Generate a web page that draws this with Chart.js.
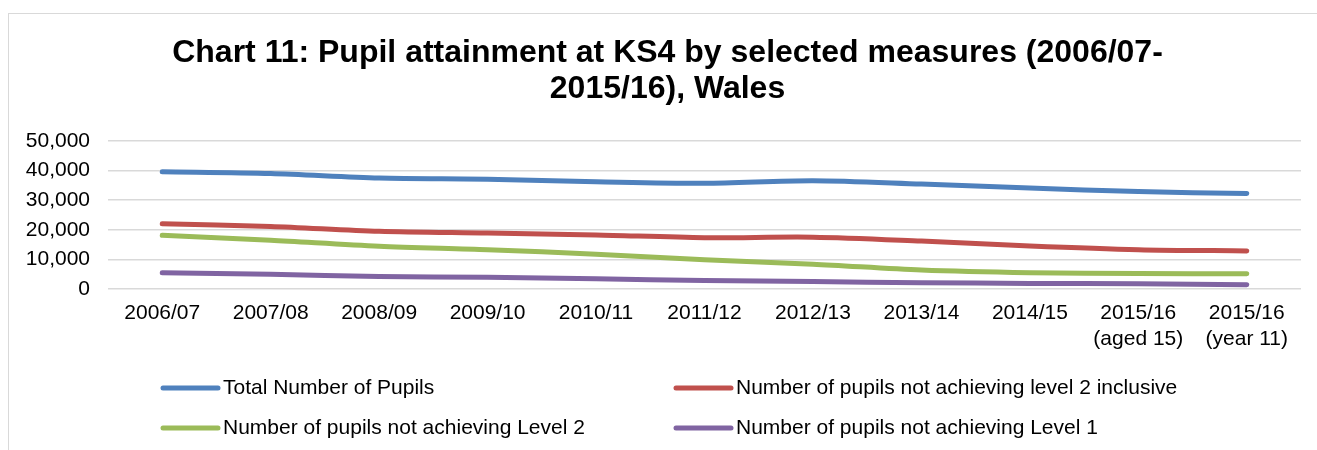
<!DOCTYPE html>
<html>
<head>
<meta charset="utf-8">
<script src="https://cdn.jsdelivr.net/npm/chart.js@4.4.0/dist/chart.umd.js"></script>
<style>
  html, body { margin: 0; padding: 0; background: #fff; }
  .frame {
    position: absolute; left: 8px; top: 13px; width: 1330px; height: 460px;
    border-top: 1px solid #d9d9d9; border-left: 1px solid #d9d9d9;
  }
  .wrap { position: absolute; left: 0; top: 0; width: 1317px; height: 450px; }
</style>
</head>
<body>
<div class="frame"></div>
<div class="wrap"><canvas id="chart"></canvas></div>
<script>
const years = [
  '2006/07', '2007/08', '2008/09', '2009/10', '2010/11', '2011/12',
  '2012/13', '2013/14', '2014/15', ['2015/16', '(aged 15)'], ['2015/16', '(year 11)']
];
const totalPupils   = [39600, 39000, 37500, 37100, 36250, 35700, 36600, 35450, 34100, 32900, 32250];
const notLevel2Incl = [22050, 21150, 19500, 18900, 18250, 17350, 17500, 16200, 14550, 13300, 12850];
const notLevel2     = [18150, 16450, 14450, 13300, 11750,  9850,  8400,  6400,  5500,  5250,  5150];
const notLevel1     = [ 5500,  4950,  4200,  3950,  3450,  2850,  2500,  2150,  1900,  1800,  1450];

const FONT = "'Liberation Sans', Arial, sans-serif";

// two-column legend under the axis
const gridLegend = {
  id: 'gridLegend',
  afterDraw(chart, args, opts) {
    const ctx = chart.ctx;
    ctx.save();
    ctx.font = opts.fontSize + 'px ' + FONT;
    ctx.textBaseline = 'middle';
    chart.data.datasets.forEach((ds, i) => {
      const col = i % 2, row = Math.floor(i / 2);
      const x = opts.cols[col], y = opts.rows[row];
      ctx.strokeStyle = ds.borderColor;
      ctx.lineWidth = 5;
      ctx.lineCap = 'round';
      ctx.beginPath();
      ctx.moveTo(x, y);
      ctx.lineTo(x + opts.lineLen, y);
      ctx.stroke();
      ctx.fillStyle = '#000';
      ctx.fillText(ds.label, x + opts.lineLen + 5, y);
    });
    ctx.restore();
  }
};

// centre the title over the framed area rather than the full canvas
const titleShift = {
  id: 'titleShift',
  afterLayout(chart, args, opts) {
    if (chart.titleBlock) chart.titleBlock.left += opts.left;
  }
};

const line = (label, data, color) => ({
  label, data,
  borderColor: color,
  backgroundColor: color,
  borderWidth: 5,
  borderCapStyle: 'round',
  pointRadius: 0,
  tension: 0.3,
  fill: false
});

new Chart(document.getElementById('chart'), {
  type: 'line',
  data: {
    labels: years,
    datasets: [
      line('Total Number of Pupils', totalPupils, '#4F81BD'),
      line('Number of pupils not achieving level 2 inclusive', notLevel2Incl, '#C0504D'),
      line('Number of pupils not achieving Level 2', notLevel2, '#9BBB59'),
      line('Number of pupils not achieving Level 1', notLevel1, '#8064A2')
    ]
  },
  options: {
    responsive: true,
    maintainAspectRatio: false,
    animation: false,
    layout: { padding: { top: 35, right: 16, left: 0, bottom: 0 } },
    plugins: {
      legend: { display: false },
      tooltip: { enabled: false },
      title: {
        display: true,
        text: ['Chart 11: Pupil attainment at KS4 by selected measures (2006/07-', '2015/16), Wales'],
        color: '#000',
        font: { family: FONT, size: 32, weight: 'bold', lineHeight: 1.125 },
        padding: { top: 0, bottom: 34 }
      },
      titleShift: { left: 34 },
      gridLegend: { cols: [163, 676], rows: [388, 428], lineLen: 55, fontSize: 21 }
    },
    scales: {
      x: {
        offset: true,
        grid: { display: false, drawTicks: false },
        border: { display: false },
        ticks: {
          color: '#000',
          font: { family: FONT, size: 21, lineHeight: 1.24 },
          padding: 11,
          maxRotation: 0,
          autoSkip: false
        },
        afterFit(scale) { scale.height = 161; }
      },
      y: {
        min: 0,
        max: 50000,
        grid: { color: '#d9d9d9', lineWidth: 1.5, drawTicks: false },
        border: { display: false },
        ticks: {
          stepSize: 10000,
          color: '#000',
          font: { family: FONT, size: 21 },
          padding: 18,
          callback: v => v.toLocaleString('en-GB')
        },
        afterFit(scale) { scale.width = 108; }
      }
    }
  },
  plugins: [titleShift, gridLegend]
});
</script>
</body>
</html>
